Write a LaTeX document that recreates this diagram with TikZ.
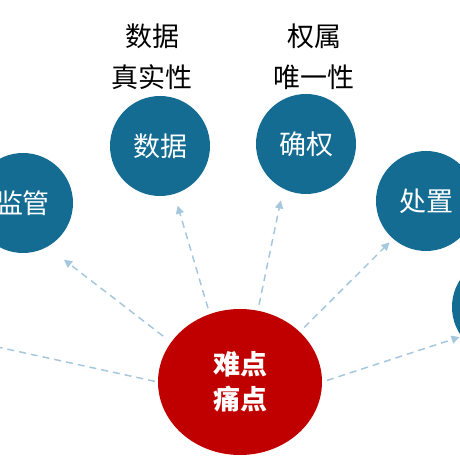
\documentclass[tikz,border=0pt]{standalone}
\usepackage{fontspec}
\setmainfont{Noto Sans CJK SC}
\usetikzlibrary{shapes.geometric,arrows.meta}
\definecolor{topicblue}{RGB}{20,108,146}
\definecolor{coredred}{RGB}{192,0,0}
\definecolor{linkblue}{RGB}{165,200,222}
\begin{document}
\begin{tikzpicture}[x=1pt, y=1pt]
		
		\clip (0,0) rectangle (460,461);
		
		% Define custom styles for circles, labels and dashed arrows
		\tikzstyle{topic} = [circle, fill=topicblue, minimum size=100pt, inner sep=0pt,
		text=white, font=\fontsize{27}{32}\selectfont]
		\tikzstyle{core} = [ellipse, fill=coredred, minimum width=164pt, minimum height=146pt,
		inner sep=0pt, text=white, align=center, font=\fontsize{27}{35}\selectfont\bfseries]
		\tikzstyle{note} = [align=center, font=\fontsize{27}{41}\selectfont]
		\tikzstyle{link} = [-{Triangle[length=8pt,width=8pt]}, draw=linkblue,
		line width=1.5pt, dash pattern=on 7pt off 5pt]
		
		% Centre node and the topics around it
		\node[core] (pain) at (240,79) {难点\\痛点};
		\node[topic] (monitor) at (23,258) {监管};
		\node[topic] (data) at (160,315) {数据};
		\node[topic] (rights) at (306,317) {确权};
		\node[topic] (dispose) at (426,260) {处置};
		\node[topic] (more) at (502,154) {};
		\coordinate (offleft) at (-30,120);
		
		% Labels above the topics
		\node[note] (datanote) at (152,404) {数据\\真实性};
		\node[note] (rightsnote) at (314,404) {权属\\唯一性};
		
		% Arrows
		\draw[link, shorten <=6pt, shorten >=12pt] (pain.114) -- (data);
		\draw[link, shorten <=6pt, shorten >=12pt] (pain.76) -- (rights.243);
		\draw[link, shorten <=10pt, shorten >=21pt] (pain.150) -- (monitor.299);
		\draw[link, shorten <=6pt, shorten >=5pt] (pain.40) -- (dispose.229);
		\draw[link, shorten <=5pt, shorten >=2pt] (pain.0) -- (more.216);
		\draw[link, shorten <=3pt] (pain.180) -- (offleft);
		
	\end{tikzpicture}
\end{document}
